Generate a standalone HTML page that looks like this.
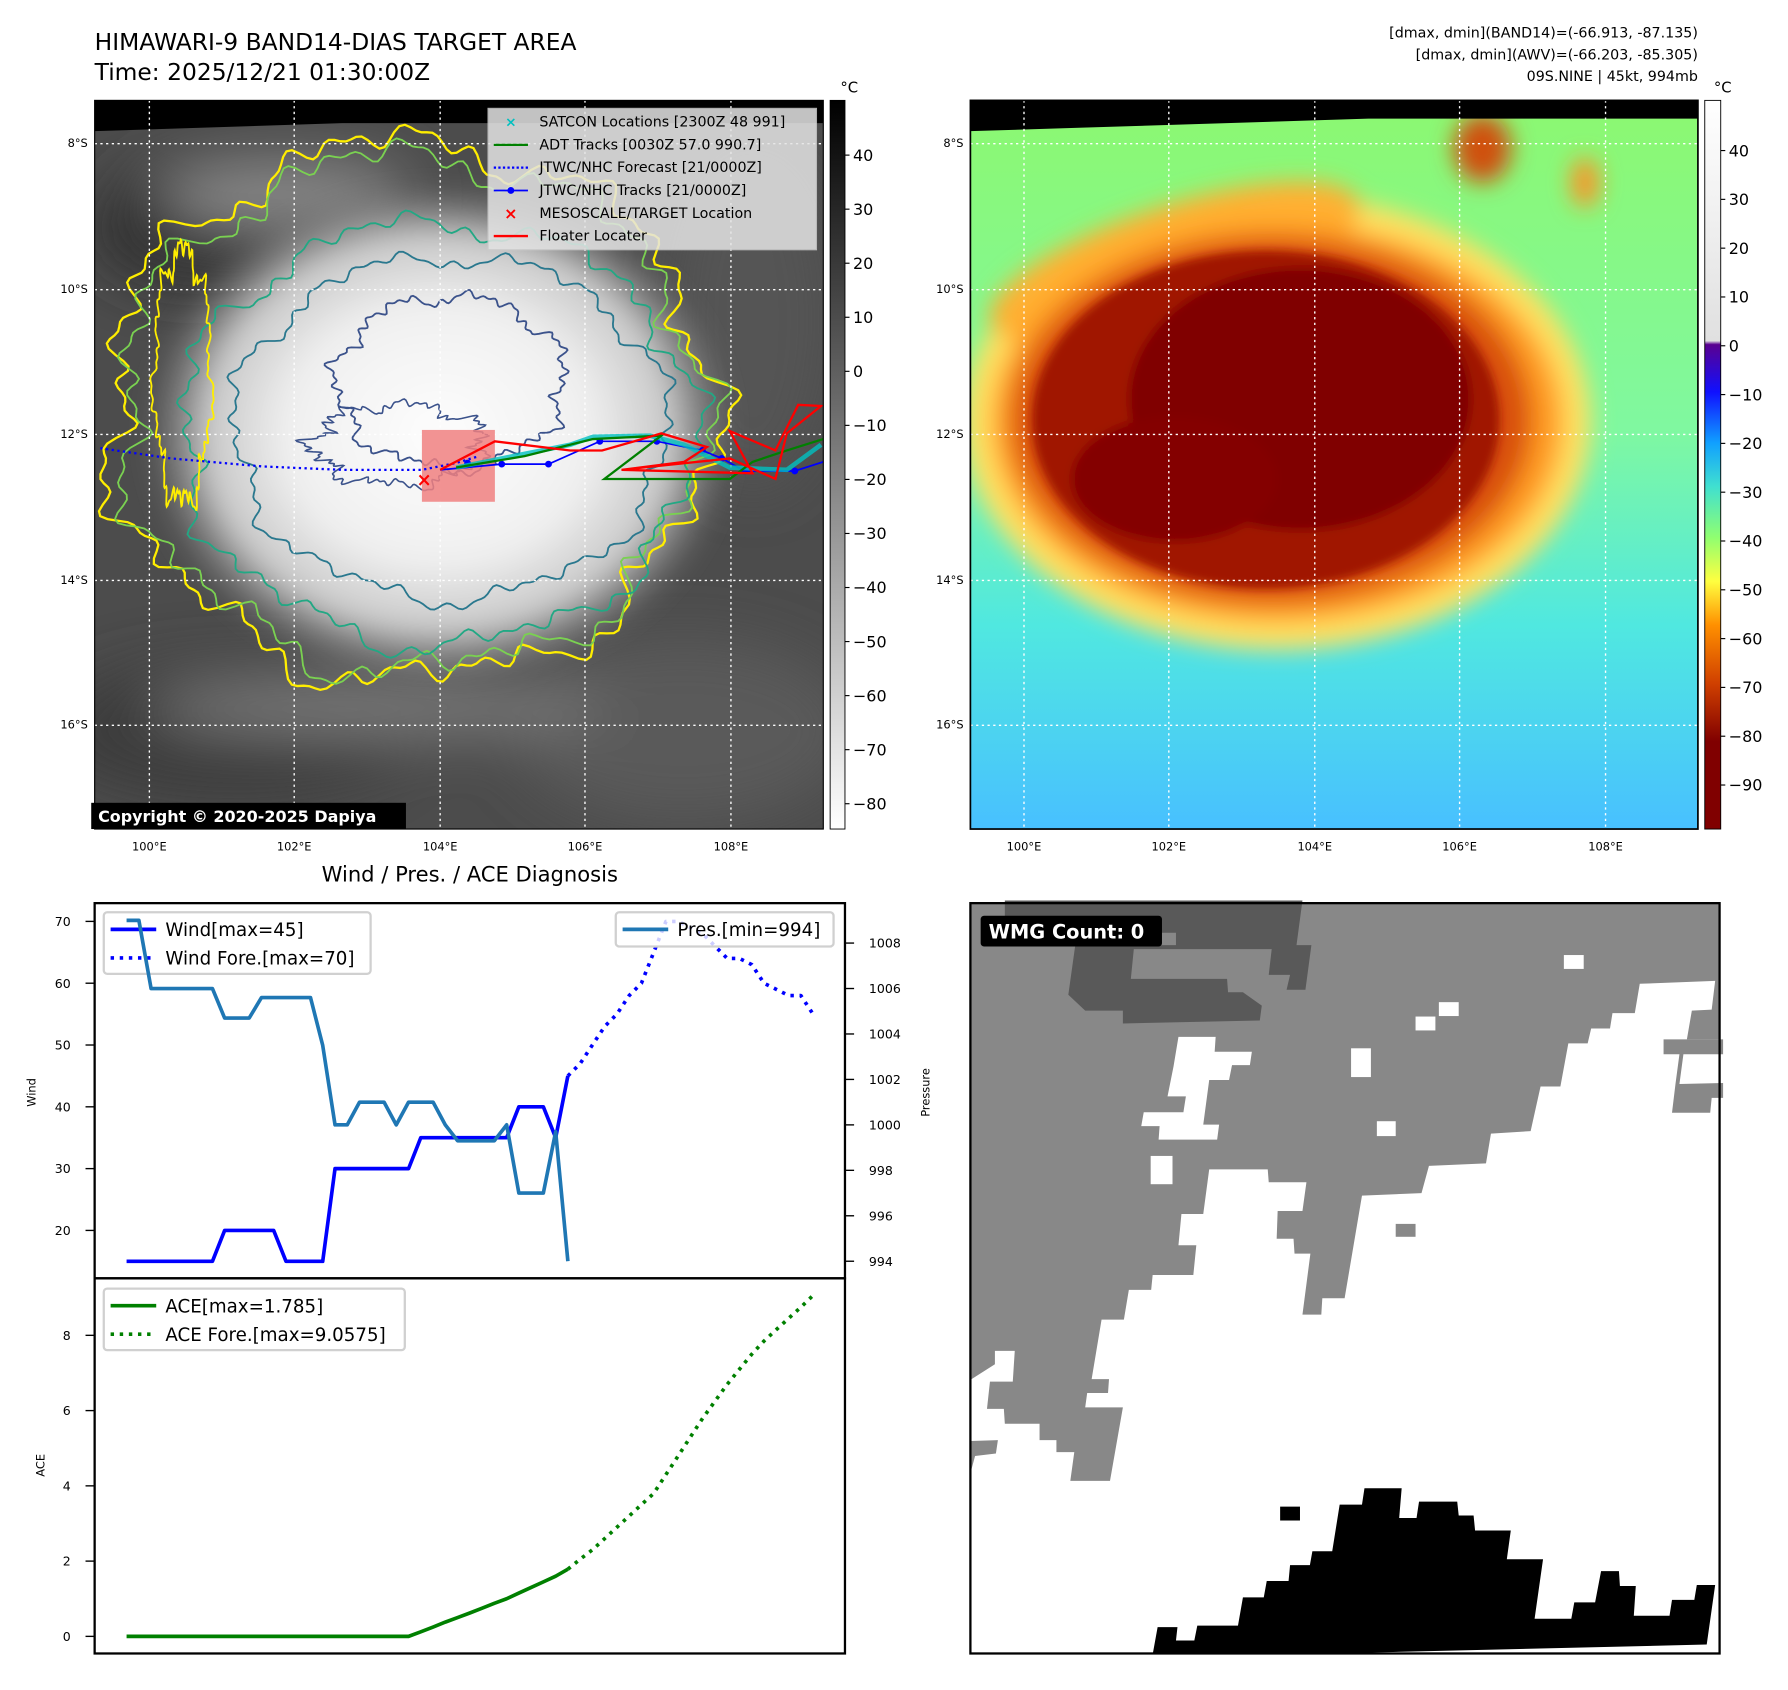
<!DOCTYPE html>
<html><head><meta charset="utf-8"><style>
html,body{margin:0;padding:0;background:#fff}
svg{display:block}
text{font-family:"DejaVu Sans","Liberation Sans",sans-serif}
</style></head><body>
<svg id="fig" xmlns="http://www.w3.org/2000/svg" width="1788" height="1690" viewBox="0 0 1568 1482">
<defs>
<filter id="b4"><feGaussianBlur stdDeviation="4"/></filter>
<filter id="b10"><feGaussianBlur stdDeviation="10"/></filter>
<filter id="b25"><feGaussianBlur stdDeviation="25"/></filter>
<radialGradient id="cloud" cx="0.5" cy="0.5" r="0.5"><stop offset="0" stop-color="#fdfdfd"/><stop offset="0.5" stop-color="#f0f0f0"/><stop offset="0.78" stop-color="#c8c8c8"/><stop offset="1" stop-color="#8a8a8a" stop-opacity="0"/></radialGradient>
<linearGradient id="cbL" x1="0" y1="0" x2="0" y2="1"><stop offset="0" stop-color="#000"/><stop offset="1" stop-color="#fff"/></linearGradient>
<linearGradient id="cbR" x1="0" y1="0" x2="0" y2="1">
<stop offset="0" stop-color="#ffffff"/><stop offset="0.33" stop-color="#e0e0e0"/><stop offset="0.335" stop-color="#5a0090"/>
<stop offset="0.4" stop-color="#1010ff"/><stop offset="0.47" stop-color="#10a0ff"/><stop offset="0.53" stop-color="#40e0d0"/>
<stop offset="0.6" stop-color="#90ff70"/><stop offset="0.66" stop-color="#ffff40"/><stop offset="0.72" stop-color="#ff9000"/>
<stop offset="0.8" stop-color="#d04000"/><stop offset="0.88" stop-color="#800000"/><stop offset="1" stop-color="#800000"/></linearGradient>
<linearGradient id="rbg" x1="0" y1="0" x2="0" y2="1"><stop offset="0" stop-color="#8cf870"/><stop offset="0.45" stop-color="#80f8a0"/><stop offset="0.72" stop-color="#50e8e0"/><stop offset="1" stop-color="#48c0ff"/></linearGradient>
<clipPath id="clipL"><rect x="83" y="88" width="639" height="639"/></clipPath>
<clipPath id="clipR"><rect x="851" y="88" width="638" height="639"/></clipPath>
<clipPath id="clipW"><rect x="83" y="792" width="658" height="329"/></clipPath>
</defs>

<text x="83" y="44" font-size="20.5">HIMAWARI-9 BAND14-DIAS TARGET AREA</text>
<text x="83" y="70" font-size="20.5">Time: 2025/12/21 01:30:00Z</text>
<g font-size="12.5" text-anchor="end">
<text x="1489" y="33">[dmax, dmin](BAND14)=(-66.913, -87.135)</text>
<text x="1489" y="52">[dmax, dmin](AWV)=(-66.203, -85.305)</text>
<text x="1489" y="71">09S.NINE | 45kt, 994mb</text>
</g>

<g id="mapL" clip-path="url(#clipL)">
<rect x="83" y="88" width="639" height="639" fill="#4c4c4c"/>
<g filter="url(#b25)">
<ellipse cx="200" cy="640" rx="160" ry="60" fill="#3a3a3a"/>
<ellipse cx="600" cy="640" rx="150" ry="80" fill="#5a5a5a"/>
<ellipse cx="330" cy="620" rx="200" ry="25" fill="#7a7a7a"/>
<ellipse cx="660" cy="280" rx="70" ry="150" fill="#555"/>
<ellipse cx="170" cy="200" rx="90" ry="50" fill="#2e2e2e"/>
<ellipse cx="250" cy="170" rx="110" ry="30" fill="#8a8a8a"/>
</g>
<ellipse cx="385" cy="380" rx="260" ry="220" fill="url(#cloud)" filter="url(#b10)"/>
<g id="contours" fill="none" stroke-width="1.6"></g>
<path d="M83 88 L722 88 L722 108 L300 108 L83 115 Z" fill="#000"/>
<g id="gridL" stroke="#fff" stroke-width="1.2" stroke-dasharray="2 3"></g>
<rect x="370" y="377" width="64" height="63" fill="#f08080" opacity="0.85"/>
<g id="tracks"></g>
</g>
<rect x="83" y="88" width="639" height="639" fill="none" stroke="#000" stroke-width="1"/>
<g>
<rect x="428" y="95" width="288" height="124" fill="#e4e4e4" opacity="0.85" stroke="#ccc"/>
<g font-size="12.5">
<text x="473" y="111">SATCON Locations [2300Z 48 991]</text>
<text x="473" y="131">ADT Tracks [0030Z 57.0 990.7]</text>
<text x="473" y="151">JTWC/NHC Forecast [21/0000Z]</text>
<text x="473" y="171">JTWC/NHC Tracks [21/0000Z]</text>
<text x="473" y="191">MESOSCALE/TARGET Location</text>
<text x="473" y="211">Floater Locater</text>
</g>
<text x="448" y="111" font-size="12" fill="#00c0c0" font-weight="bold" text-anchor="middle">×</text>
<line x1="433" y1="127" x2="463" y2="127" stroke="#008000" stroke-width="2"/>
<line x1="433" y1="147" x2="463" y2="147" stroke="#0000ff" stroke-width="2" stroke-dasharray="2 2"/>
<line x1="433" y1="167" x2="463" y2="167" stroke="#0000ff" stroke-width="1.5"/><circle cx="448" cy="167" r="3" fill="#00f"/>
<text x="448" y="192" font-size="14" fill="#f00" font-weight="bold" text-anchor="middle">×</text>
<line x1="433" y1="207" x2="463" y2="207" stroke="#f00" stroke-width="2"/>
</g>
<g><rect x="80" y="704" width="276" height="23" fill="#000"/><text x="86" y="721" fill="#fff" font-size="14" font-weight="bold">Copyright © 2020-2025 Dapiya</text></g>
<g><rect x="728" y="88" width="13" height="639" fill="url(#cbL)" stroke="#000" stroke-width="0.8"/><text x="737" y="81" font-size="13">°C</text><g id="cbLt"></g></g>

<g id="mapR" clip-path="url(#clipR)">
<rect x="851" y="88" width="638" height="639" fill="url(#rbg)"/>
<g filter="url(#b10)">
<ellipse cx="1120" cy="370" rx="275" ry="200" fill="#ffe060"/>
<ellipse cx="1030" cy="230" rx="170" ry="50" fill="#ffb030" transform="rotate(-18 1030 230)"/>
<ellipse cx="1120" cy="370" rx="250" ry="175" fill="#ff9a20"/>
<ellipse cx="1115" cy="368" rx="228" ry="160" fill="#d85010"/>
<ellipse cx="1300" cy="130" rx="25" ry="30" fill="#d05010"/>
<ellipse cx="1390" cy="160" rx="12" ry="22" fill="#ff9020"/>
</g>
<g filter="url(#b4)">
<ellipse cx="1110" cy="368" rx="205" ry="148" fill="#a01400"/>
<ellipse cx="1140" cy="350" rx="150" ry="115" fill="#800000"/>
<ellipse cx="1030" cy="420" rx="90" ry="55" fill="#840000"/>
</g>
<path d="M851 88 L1489 88 L1489 104 L1200 104 L851 115 Z" fill="#000"/>
<g id="gridR" stroke="#fff" stroke-width="1.2" stroke-dasharray="2 3"></g>
</g>
<rect x="851" y="88" width="638" height="639" fill="none" stroke="#000" stroke-width="1.5"/>
<g><rect x="1495" y="88" width="14" height="639" fill="url(#cbR)" stroke="#000" stroke-width="0.8"/><text x="1503" y="81" font-size="13">°C</text><g id="cbRt"></g></g>

<text x="412" y="773" font-size="18.5" text-anchor="middle">Wind / Pres. / ACE Diagnosis</text>
<g id="chart"></g>

<g>
<rect x="851" y="792" width="657" height="658" fill="#888"/>
<g transform="translate(846.4 785.3) scale(0.435)">
<polygon fill="#fff" points="5,980 60,945 60,918 100,918 96,980 50,980 44,1035 78,1035 80,1065 150,1065 150,1098 184,1098 184,1122 220,1122 212,1180 292,1180 318,1032 242,1032 246,1003 288,1003 290,975 255,975 275,855 320,855 330,795 375,795 378,765 460,765 466,705 430,705 436,642 480,642 492,552 610,552 612,578 688,578 680,636 630,636 628,692 662,692 664,722 696,722 680,845 718,845 720,812 765,812 800,605 920,600 935,545 1050,540 1060,480 1140,475 1160,385 1200,385 1216,298 1255,298 1262,268 1300,268 1305,237 1350,237 1360,178 1512,172 1505,230 1465,232 1455,290 1528,290 1528,1530 5,1530 5,1185 20,1130 62,1125 66,1098 5,1100"/>
<polygon fill="#888" points="1408,290 1528,290 1528,320 1448,320 1440,380 1528,378 1528,408 1505,408 1502,438 1425,438 1432,380 1440,320 1408,320"/>
<rect x="868" y="662" width="40" height="26" fill="#888"/>
<polygon fill="#fff" points="430,285 505,285 503,315 578,315 574,342 538,342 532,372 492,372 480,462 512,462 508,492 390,492 392,465 355,465 360,437 440,437 445,405 408,405 420,345"/>
<g fill="#fff"><rect x="1207" y="120" width="40" height="28"/><rect x="955" y="215" width="40" height="28"/><rect x="908" y="244" width="40" height="28"/><rect x="778" y="308" width="40" height="58"/><rect x="830" y="455" width="38" height="30"/><rect x="374" y="525" width="44" height="57"/></g>
<polygon fill="#595959" points="80,10 680,10 668,100 698,100 686,190 648,190 655,160 612,160 618,108 340,108 334,168 528,168 530,195 560,195 598,222 594,252 318,258 318,232 242,232 208,200 222,100 425,100 425,75 80,75"/>
<polygon fill="#000" points="378,1530 388,1475 428,1475 425,1502 462,1502 468,1472 550,1472 560,1415 602,1415 608,1382 652,1382 655,1350 695,1350 700,1322 740,1322 755,1228 800,1228 805,1195 880,1195 875,1255 910,1255 915,1222 992,1222 995,1250 1025,1250 1028,1280 1100,1280 1092,1338 1165,1338 1148,1458 1222,1458 1228,1425 1270,1425 1282,1362 1318,1362 1320,1392 1352,1392 1348,1452 1420,1452 1425,1420 1470,1420 1475,1390 1512,1390 1495,1510 655,1530"/>
<rect x="635" y="1232" width="40" height="28" fill="#000"/>
</g>
<rect x="851" y="792" width="657" height="658" fill="none" stroke="#000" stroke-width="2"/>
<g><rect x="860" y="803" width="159" height="27" rx="3" fill="#000"/><text x="867" y="823" fill="#fff" font-size="17" font-weight="bold">WMG Count: 0</text></g>
</g>
</svg>
<script>
const windObs = [15,15,15,15,15,15,15,15,20,20,20,20,20,15,15,15,15,30,30,30,30,30,30,30,35,35,35,35,35,35,35,35,40,40,40,35,45];
const windFore = [45,47,50,53,55,58,60,65,70,70,69,68,66,64,64,63,60,59,58,58,55];
const presObs = [1009,1009,1006,1006,1006,1006,1006,1006,1004.7,1004.7,1004.7,1005.6,1005.6,1005.6,1005.6,1005.6,1003.5,1000,1000,1001,1001,1001,1000,1001,1001,1001,1000,999.3,999.3,999.3,999.3,1000,997,997,997,999.7,994];
const aceObs = [0,0,0,0,0,0,0,0,0,0,0,0,0,0,0,0,0,0,0,0,0,0,0,0,0.12,0.25,0.38,0.5,0.62,0.75,0.88,1.0,1.15,1.3,1.45,1.6,1.785];
const aceFore = [1.785,2.05,2.3,2.6,2.9,3.2,3.5,3.8,4.3,4.8,5.3,5.8,6.25,6.7,7.1,7.5,7.85,8.15,8.45,8.75,9.06];
const windTicks = [20,30,40,50,60,70];
const presTicks = [994,996,998,1000,1002,1004,1006,1008];
const aceTicks = [0,2,4,6,8];
const foreStart = 36;

const NS="http://www.w3.org/2000/svg";
function mk(tag, attrs, parent){const e=document.createElementNS(NS,tag);for(const k in attrs)e.setAttribute(k,attrs[k]);parent.appendChild(e);return e;}
const xS = i => 111 + i*10.75;
const yW = v => 808 + (70-v)*5.42;
const yP = p => 827 + (1008-p)*19.93;
const yA = a => 1435 - a*33;

const ch=document.getElementById('chart');
let fr=mk('rect',{x:83,y:792,width:658,height:329,fill:'none',stroke:'#000','stroke-width':2},ch);


let fr2=mk('rect',{x:83,y:1121,width:658,height:329,fill:'none',stroke:'#000','stroke-width':2},ch);


function line(arr, off, xf, yf, attrs, name){
  const pts=arr.map((v,i)=>xf(i+off).toFixed(1)+','+yf(v).toFixed(1)).join(' ');
  const p=mk('polyline',Object.assign({points:pts,fill:'none','stroke-linejoin':'round','clip-path':'url(#clipW)'},attrs),ch);
  
  
  return p;
}
function legend(x,y,w,h,items,name){
  const lg=mk('g',{},ch);
  
  
  mk('rect',{x:x,y:y,width:w,height:h,fill:'#fff','fill-opacity':0.8,stroke:'#d0d0d0','stroke-width':2,rx:3},lg);
  items.forEach((it,k)=>{const yy=y+15+k*25;
    mk('line',{x1:x+6,y1:yy,x2:x+46,y2:yy,stroke:it.c,'stroke-width':3.2,'stroke-dasharray':it.d||'none'},lg);
    const t=mk('text',{x:x+54,y:yy+6,'font-size':16},lg);t.textContent=it.t;});
}
line(windObs,0,xS,yW,{stroke:'#0000ff','stroke-width':3.2},'wind-line');
line(windFore,foreStart,xS,yW,{stroke:'#0000ff','stroke-width':3.2,'stroke-dasharray':'3 5'},'wind-forecast-line');
legend(91,800,234,54,[{c:'#0000ff',t:'Wind[max=45]'},{c:'#0000ff',d:'3 5',t:'Wind Fore.[max=70]'}],'wind-legend');
line(presObs,0,xS,yP,{stroke:'#1f77b4','stroke-width':3.2},'pressure-line');
legend(540,800,191,30,[{c:'#1f77b4',t:'Pres.[min=994]'}],'pressure-legend');
line(aceObs,0,xS,yA,{stroke:'#008000','stroke-width':3.2,'clip-path':'none'},'ace-line');
line(aceFore,foreStart,xS,yA,{stroke:'#008000','stroke-width':3.2,'stroke-dasharray':'3 5','clip-path':'none'},'ace-forecast-line');
legend(91,1130,264,54,[{c:'#008000',t:'ACE[max=1.785]'},{c:'#008000',d:'3 5',t:'ACE Fore.[max=9.0575]'}],'ace-legend');
function tick(x1,y,x2,lx,label,anchor,name){
  mk('line',{x1:x1,y1:y,x2:x2,y2:y,stroke:'#000','stroke-width':1.2},ch);
  const t=mk('text',{x:lx,y:y+4,'font-size':11,'text-anchor':anchor},ch);t.textContent=label;
  
  
}
windTicks.forEach(v=>tick(75,yW(v),83,62,String(v),'end','wind-tick'));
presTicks.forEach(v=>tick(741,yP(v),749,762,String(v),'start','pressure-tick'));
aceTicks.forEach(v=>tick(75,yA(v),83,62,String(v),'end','ace-tick'));
function rot(x,y,txt,name){const t=mk('text',{x:x,y:y,'font-size':10,'text-anchor':'middle',transform:`rotate(-90 ${x} ${y})`},ch);t.textContent=txt;

}
rot(31,958,'Wind','wind-axis-title');rot(815,958,'Pressure','pressure-axis-title');rot(39,1285,'ACE','ace-axis-title');

const lonX=[131,258,386,513,641], latY=[126,254,381,509,636];
const lonLab=['100°E','102°E','104°E','106°E','108°E'], latLab=['8°S','10°S','12°S','14°S','16°S'];
const gl=document.getElementById('gridL'), gr=document.getElementById('gridR');
lonX.forEach(x=>{mk('line',{x1:x,y1:88,x2:x,y2:727},gl);mk('line',{x1:x+767,y1:88,x2:x+767,y2:727},gr);});
latY.forEach(y=>{mk('line',{x1:83,y1:y,x2:722,y2:y},gl);mk('line',{x1:851,y1:y,x2:1489,y2:y},gr);});
const svg=document.getElementById('fig');
lonX.forEach((x,k)=>{[0,767].forEach(o=>{const t=mk('text',{x:x+o,y:746,'font-size':10,'text-anchor':'middle'},svg);t.textContent=lonLab[k];

});});
latY.forEach((y,k)=>{[0,768].forEach(o=>{const t=mk('text',{x:77+o,y:y+3,'font-size':10,'text-anchor':'end'},svg);t.textContent=latLab[k];

});});
const cbLv=[40,30,20,10,0,-10,-20,-30,-40,-50,-60,-70,-80];
const cbL=document.getElementById('cbLt');
cbLv.forEach(v=>{const y=136+(40-v)*4.74;mk('line',{x1:741,y1:y,x2:745,y2:y,stroke:'#000'},cbL);const t=mk('text',{x:748,y:y+5,'font-size':14},cbL);t.textContent=v<0?'\u2212'+(-v):String(v);});
const cbRv=[40,30,20,10,0,-10,-20,-30,-40,-50,-60,-70,-80,-90];
const cbR=document.getElementById('cbRt');
cbRv.forEach(v=>{const y=132+(40-v)*4.28;mk('line',{x1:1509,y1:y,x2:1513,y2:y,stroke:'#000'},cbR);const t=mk('text',{x:1516,y:y+5,'font-size':14},cbR);t.textContent=v<0?'\u2212'+(-v):String(v);});
const ct=document.getElementById('contours');
function blob(cx,cy,rx,ry,amp,seed,col,w){
  let d='';for(let k=0;k<=360;k++){const a=k/360*Math.PI*2;
    const r=1+amp*(Math.sin(a*7+seed)*0.4+Math.sin(a*13+seed*2)*0.25+Math.sin(a*29+seed*3)*0.2+Math.sin(a*53+seed*5)*0.15);
    const x=cx+rx*r*Math.cos(a), y=cy+ry*r*Math.sin(a);d+=(k?'L':'M')+x.toFixed(1)+' '+y.toFixed(1);}
  mk('path',{d:d+'Z',stroke:col,'stroke-width':w||1.6},ct);
}
blob(360,360,265,235,0.12,1,'#ffee00',2);
blob(362,362,255,225,0.12,1.3,'#7ad151',1.6);
blob(385,380,225,185,0.1,2,'#22a884',1.6);
blob(395,375,190,150,0.09,3,'#2a788e',1.6);
blob(395,335,100,75,0.14,4,'#3b528b',1.6);
blob(350,390,75,35,0.25,5,'#3b528b',1.4);
blob(160,330,25,110,0.2,6,'#ffee00',1.6);
const tr=document.getElementById('tracks');
mk('polyline',{points:'88,393 150,402 230,409 300,412 370,412 400,406 420,400',fill:'none',stroke:'#0000ff','stroke-width':2,'stroke-dasharray':'2 3'},tr);
mk('polyline',{points:'386,412 440,407 481,407 526,387 576,387 616,395 633,402 653,413 697,413 722,405',fill:'none',stroke:'#0000ff','stroke-width':1.5},tr);
[[410,406],[440,407],[481,407],[526,387],[576,387],[616,395],[633,402],[653,413],[697,413]].forEach(p=>mk('circle',{cx:p[0],cy:p[1],r:3,fill:'#00f'},tr));
mk('polyline',{points:'400,410 450,400 500,390 520,383 570,382 600,390 640,410 690,412 720,390',fill:'none',stroke:'#00c0c0','stroke-width':4,opacity:0.8},tr);
mk('polyline',{points:'400,410 460,400 520,385 580,382 530,420 640,420 660,405 690,395 722,385',fill:'none',stroke:'#008000','stroke-width':2},tr);
mk('polyline',{points:'386,412 434,387 500,395 528,395 570,383 580,380 620,392 600,405 545,412 640,402 680,420 690,380 720,356 700,355 680,395 640,378 660,415 545,412',fill:'none',stroke:'#ff0000','stroke-width':2},tr);
const xm=mk('text',{x:372,y:426,'font-size':16,fill:'#f00','font-weight':'bold','text-anchor':'middle'},tr);xm.textContent='×';
</script>
</body></html>
